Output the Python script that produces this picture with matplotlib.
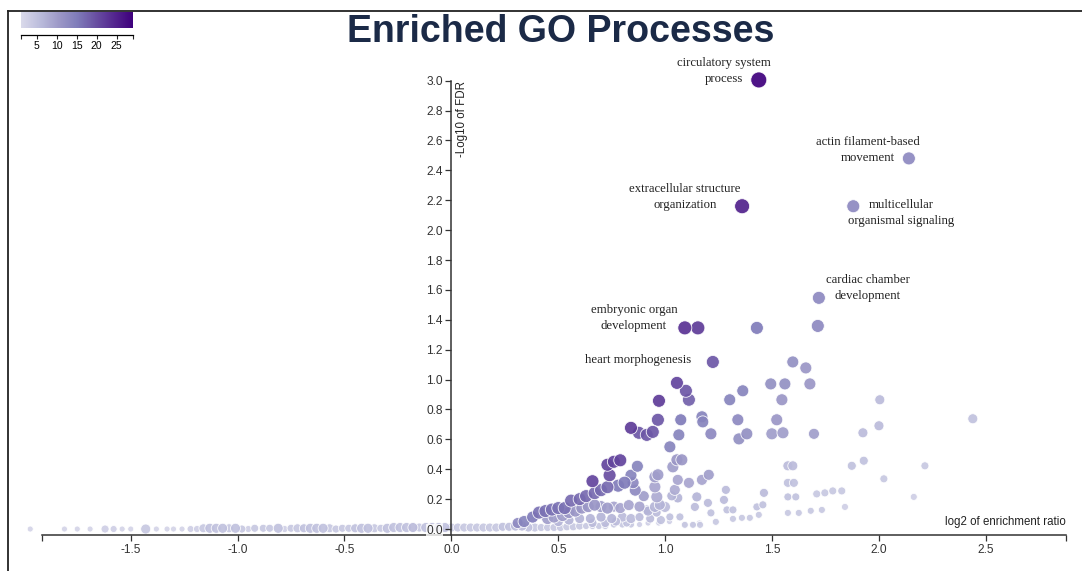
import numpy as np
import matplotlib
matplotlib.use("Agg")
import matplotlib.pyplot as plt
from matplotlib.colors import LinearSegmentedColormap, Normalize
from matplotlib.lines import Line2D

# log2 enrichment ratio, -log10 FDR, overlap (colour), category size (dot area)
x = [
    # baseline, negative side
    -1.97, -1.81, -1.75, -1.69, -1.62, -1.58, -1.54, -1.50, -1.43, -1.38,
    -1.33, -1.30, -1.26, -1.22, -1.19, -1.16, -1.13, -1.10, -1.07, -1.04,
    -1.01, -0.98, -0.95, -0.92, -0.88, -0.85, -0.81, -0.78, -0.75, -0.72,
    -0.69, -0.66, -0.63, -0.60, -0.57, -0.54, -0.51, -0.48, -0.45, -0.42,
    -0.39, -0.36, -0.33, -0.30, -0.27, -0.24, -0.21, -0.18, -0.15, -0.12,
    -0.09, -0.06, -0.03,
    # baseline, positive side
    0.00, 0.03, 0.06, 0.09, 0.12, 0.15, 0.18, 0.21, 0.24, 0.27,
    0.30, 0.33, 0.36, 0.39, 0.42, 0.45, 0.48, 0.51, 0.54, 0.57,
    0.60, 0.63, 0.66, 0.69, 0.72, 0.76, 0.80, 0.84, 0.88, 0.92,
    0.97, 1.02, 1.09, 1.13, 1.16,
    # rising envelope
    0.31, 0.34, 0.38, 0.41, 0.44, 0.47, 0.50, 0.53, 0.56, 0.60,
    0.63, 0.66, 0.67, 0.70, 0.73, 0.74, 0.73, 0.76, 0.79, 0.78,
    0.81, 0.84, 0.87, 0.86, 0.85,
    # lighter points under the envelope
    0.45, 0.48, 0.52, 0.55, 0.58, 0.61, 0.64, 0.67, 0.70, 0.73,
    0.76, 0.79, 0.83, 0.88, 0.50, 0.55, 0.60, 0.65, 0.70, 0.75,
    0.80, 0.84, 0.88, 0.93, 0.98, 0.66, 0.72, 0.77, 0.82, 0.90,
    0.92, 0.96,
    # middle cloud
    1.055, 1.097, 1.111, 0.971, 0.966, 0.840, 0.877, 0.914, 0.942, 1.073,
    1.064, 1.022, 1.172, 1.176, 1.214, 1.302, 1.363, 1.340, 1.345, 1.382,
    1.494, 1.560, 1.677, 1.597, 1.658, 1.546, 1.522, 1.499, 1.551, 1.696,
    2.004, 2.000, 2.439, 1.925, 1.873, 1.929, 2.215, 2.023, 2.163, 1.841,
    1.709, 1.747, 1.784, 1.826, 1.574, 1.597, 1.574, 1.602, 1.574, 1.611,
    1.574, 1.625, 1.681, 1.733, 1.462, 1.429, 1.457, 1.317, 1.359, 1.396,
    1.438, 1.289, 1.317, 1.284, 1.275, 1.200, 1.214, 1.237, 1.204, 1.172,
    1.148, 1.139, 1.111, 1.059, 1.045, 1.059, 1.031, 1.055, 1.078, 1.036,
    0.952, 0.966, 0.952, 0.961, 0.952, 0.975, 0.999, 0.914, 1.022, 1.069,
    1.130, 1.163, 1.092,
    # labelled terms
    1.438, 2.140, 1.360, 1.880, 1.719, 1.714, 1.092, 1.153, 1.429, 1.223,
]
y = [
    0.0, 0.0, 0.0, 0.0, 0.0, 0.0, 0.0, 0.0, 0.0, 0.0,
    0.0, 0.0, 0.0, 0.0, 0.0, 0.005, 0.005, 0.005, 0.005, 0.005,
    0.005, 0.0, 0.0, 0.005, 0.005, 0.005, 0.005, 0.0, 0.005, 0.005,
    0.005, 0.005, 0.005, 0.005, 0.005, 0.0, 0.005, 0.005, 0.005, 0.005,
    0.005, 0.005, 0.005, 0.005, 0.01, 0.01, 0.01, 0.01, 0.01, 0.01,
    0.01, 0.01, 0.01,
    0.01, 0.01, 0.01, 0.01, 0.01, 0.01, 0.01, 0.01, 0.015, 0.015,
    0.02, 0.02, 0.01, 0.01, 0.01, 0.01, 0.01, 0.01, 0.015, 0.015,
    0.02, 0.02, 0.02, 0.02, 0.02, 0.03, 0.03, 0.03, 0.03, 0.04,
    0.04, 0.05, 0.03, 0.03, 0.04,
    0.04, 0.05, 0.08, 0.11, 0.12, 0.13, 0.14, 0.14, 0.19, 0.20,
    0.22, 0.32, 0.24, 0.26, 0.28, 0.36, 0.43, 0.45, 0.46, 0.29,
    0.31, 0.36, 0.42, 0.26, 0.31,
    0.07, 0.08, 0.09, 0.11, 0.12, 0.14, 0.15, 0.16, 0.15, 0.14,
    0.15, 0.14, 0.16, 0.15, 0.05, 0.06, 0.07, 0.07, 0.08, 0.07,
    0.08, 0.07, 0.08, 0.07, 0.06, 0.04, 0.04, 0.05, 0.04, 0.22,
    0.12, 0.11,
    0.978, 0.925, 0.865, 0.858, 0.731, 0.677, 0.644, 0.630, 0.650, 0.731,
    0.630, 0.550, 0.751, 0.717, 0.637, 0.865, 0.925, 0.731, 0.603, 0.637,
    0.971, 0.971, 0.971, 1.118, 1.078, 0.865, 0.731, 0.637, 0.644, 0.637,
    0.865, 0.691, 0.738, 0.644, 0.423, 0.457, 0.423, 0.336, 0.215, 0.148,
    0.235, 0.242, 0.255, 0.255, 0.423, 0.423, 0.309, 0.309, 0.215, 0.215,
    0.108, 0.108, 0.122, 0.128, 0.242, 0.148, 0.162, 0.068, 0.075, 0.075,
    0.095, 0.128, 0.128, 0.262, 0.195, 0.175, 0.108, 0.048, 0.363, 0.329,
    0.215, 0.148, 0.309, 0.329, 0.262, 0.208, 0.222, 0.463, 0.463, 0.416,
    0.349, 0.363, 0.282, 0.215, 0.148, 0.162, 0.148, 0.128, 0.081, 0.081,
    0.028, 0.028, 0.028,
    3.005, 2.480, 2.160, 2.160, 1.547, 1.359, 1.346, 1.346, 1.346, 1.118,
]
overlap = [
    2, 2, 2, 2, 3, 3, 2, 2, 4, 2,
    2, 2, 2, 3, 3, 4, 5, 5, 5, 4,
    5, 4, 3, 4, 4, 4, 5, 3, 4, 4,
    5, 5, 5, 5, 4, 4, 4, 4, 5, 5,
    5, 4, 4, 5, 5, 5, 5, 6, 4, 5,
    5, 5, 5,
    4, 4, 4, 4, 4, 4, 4, 4, 5, 5,
    6, 6, 5, 4, 4, 4, 4, 4, 4, 4,
    4, 4, 4, 4, 4, 4, 4, 4, 3, 3,
    3, 3, 3, 3, 3,
    13, 14, 15, 16, 16, 16, 16, 16, 17, 17,
    17, 21, 17, 17, 17, 20, 21, 21, 21, 15,
    15, 14, 14, 13, 13,
    10, 10, 10, 11, 11, 11, 11, 11, 10, 10,
    9, 9, 9, 9, 7, 7, 7, 7, 7, 7,
    6, 6, 6, 6, 5, 6, 6, 6, 5, 10,
    7, 6,
    21, 19, 18, 22, 19, 22, 19, 19, 19, 15,
    14, 14, 14, 14, 13, 14, 14, 13, 12, 12,
    12, 12, 11, 12, 11, 11, 11, 10, 10, 10,
    6, 6, 5, 6, 5, 5, 4, 4, 3, 3,
    4, 4, 4, 4, 6, 6, 5, 5, 5, 5,
    4, 4, 4, 4, 6, 5, 5, 4, 4, 4,
    4, 5, 5, 6, 6, 6, 5, 4, 10, 9,
    7, 6, 9, 9, 8, 7, 7, 11, 11, 10,
    10, 10, 9, 8, 7, 7, 6, 6, 5, 5,
    4, 4, 4,
    29, 13, 25, 13, 13, 13, 23, 22, 15, 19,
]
set_size = [
    36, 36, 36, 36, 64, 49, 36, 36, 100, 36,
    36, 36, 36, 49, 49, 81, 100, 100, 100, 81,
    100, 64, 49, 64, 64, 64, 100, 49, 64, 81,
    81, 100, 100, 100, 81, 64, 64, 64, 81, 100,
    100, 81, 64, 100, 100, 100, 100, 100, 81, 100,
    100, 100, 100,
    81, 81, 81, 81, 81, 81, 81, 81, 81, 81,
    100, 100, 81, 81, 64, 64, 64, 64, 64, 64,
    64, 49, 49, 49, 49, 49, 49, 49, 36, 36,
    36, 36, 36, 36, 36,
    121, 144, 144, 169, 169, 169, 169, 169, 169, 169,
    169, 169, 169, 169, 169, 169, 169, 169, 169, 169,
    169, 144, 144, 144, 144,
    144, 144, 144, 144, 144, 144, 144, 144, 144, 144,
    121, 121, 121, 121, 100, 100, 100, 100, 100, 100,
    100, 100, 81, 81, 81, 81, 81, 81, 64, 121,
    100, 81,
    169, 169, 169, 169, 169, 169, 169, 169, 169, 144,
    144, 144, 144, 144, 144, 144, 144, 144, 144, 144,
    144, 144, 144, 144, 144, 144, 144, 144, 144, 121,
    100, 100, 100, 100, 81, 81, 64, 64, 49, 49,
    64, 64, 64, 64, 100, 100, 81, 81, 64, 64,
    49, 49, 49, 49, 81, 64, 64, 49, 49, 49,
    49, 64, 64, 81, 81, 81, 64, 49, 121, 121,
    100, 81, 121, 121, 121, 100, 100, 144, 144, 144,
    144, 144, 144, 144, 121, 121, 121, 100, 64, 64,
    49, 49, 49,
    256, 169, 225, 169, 169, 169, 196, 196, 169, 169,
]

# labelled terms: (x, y, text, offset in pixels)
labels = [
    (1.438, 3.005, "circulatory system\nprocess", (-35, 9)),
    (2.140, 2.480, "actin filament-based\nmovement", (-41, 8)),
    (1.360, 2.160, "extracellular structure\norganization", (-57, 9)),
    (1.880, 2.160, "multicellular\norganismal signaling", (48, -7)),
    (1.719, 1.547, "cardiac chamber\ndevelopment", (49, 10)),
    (1.092, 1.346, "embryonic organ\ndevelopment", (-51, 10)),
    (1.223, 1.118, "heart morphogenesis", (-75, 2)),
]

x_ticks = [-1.5, -1.0, -0.5, 0.0, 0.5, 1.0, 1.5, 2.0, 2.5]
y_ticks = [0.0, 0.2, 0.4, 0.6, 0.8, 1.0, 1.2, 1.4, 1.6, 1.8, 2.0, 2.2, 2.4, 2.6, 2.8, 3.0]
cbar_ticks = [5, 10, 15, 20, 25]

cmap = LinearSegmentedColormap.from_list(
    "purples_part", plt.cm.Purples(np.linspace(0.25, 1.0, 256)))
norm = Normalize(1, 29)

plt.rcParams['font.family'] = ['Liberation Sans', 'DejaVu Sans']
fig = plt.figure(figsize=(10.82, 5.71), dpi=100)
ax = fig.add_axes([42 / 1082, 36 / 571, 1024 / 1082, 454.3 / 571])

xa = np.array(x)
ya = np.array(y)
ov = np.array(overlap)
sz = np.array(set_size) * 0.72 ** 2
order = np.argsort(ov, kind="stable")
ax.scatter(xa[order], ya[order], s=sz[order], c=ov[order], cmap=cmap, norm=norm,
           edgecolors="white", linewidths=0.6, alpha=0.92, clip_on=False, zorder=2)
ax.set_axisbelow(False)

ax.set_xlim(-1.915, 2.875)
ax.set_ylim(-0.04, 3.0)

for side in ["top", "right"]:
    ax.spines[side].set_visible(False)
ax.spines["left"].set_position(("data", 0))
for side in ["left", "bottom"]:
    ax.spines[side].set_color("#333333")
    ax.spines[side].set_linewidth(1.1)

ax.set_xticks(x_ticks)
ax.set_xticklabels([f"{v:.1f}" for v in x_ticks])
ax.set_xticks([-1.915, 2.875], minor=True)
ax.set_yticks(y_ticks)
ax.set_yticklabels([f"{v:.1f}" for v in y_ticks])
ax.tick_params(axis="both", which="both", length=4.3, width=0.9, color="#333333",
               labelsize=8.6, labelcolor="#333333", pad=2)
for lab in ax.get_yticklabels():
    lab.set_bbox(dict(facecolor="white", edgecolor="none", pad=0.3, alpha=0.8))

for lx, ly, txt, off in labels:
    ax.annotate(txt, xy=(lx, ly), xytext=off, textcoords="offset pixels",
                ha="center", va="center", multialignment="center",
                fontsize=9.2, family=["Liberation Serif", "DejaVu Serif"],
                color="#222222", linespacing=1.45, annotation_clip=False)

ax.annotate("-Log10 of FDR", xy=(0, 3.0), xytext=(11, 0), textcoords="offset pixels",
            rotation=90, ha="center", va="top", fontsize=8.3, color="#222222",
            annotation_clip=False)
ax.annotate("log2 of enrichment ratio", xy=(1, 0), xycoords="axes fraction",
            xytext=(0, 10), textcoords="offset pixels",
            ha="right", va="baseline", fontsize=8.3, color="#222222")

fig.text(561 / 1082, (571 - 42) / 571, "Enriched GO Processes", ha="center",
         va="baseline", fontsize=27, fontweight="bold", color="#1b2a47")

# colour legend
cax = fig.add_axes([20.7 / 1082, (571 - 28) / 571, 112 / 1082, 16 / 571])
grad = np.linspace(1, 29, 256).reshape(1, -1)
cax.imshow(grad, aspect="auto", cmap=cmap, norm=norm, extent=[1, 29, 0, 1])
cax.set_xlim(1, 29)
cax.set_yticks([])
for side in ["top", "left", "right"]:
    cax.spines[side].set_visible(False)
cax.spines["bottom"].set_position(("outward", 5))
cax.spines["bottom"].set_linewidth(0.9)
cax.set_xticks(cbar_ticks)
cax.set_xticks([1, 29], minor=True)
cax.tick_params(axis="x", which="both", length=3, width=0.8, labelsize=7.5,
                pad=1.5, color="#222222")

# frame lines of the panel
fig.add_artist(Line2D([8 / 1082, 1], [1 - 11 / 571, 1 - 11 / 571],
                      color="#222222", lw=1.3))
fig.add_artist(Line2D([8 / 1082, 8 / 1082], [0, 1 - 11 / 571],
                      color="#222222", lw=1.3))

fig.savefig("out.png", dpi=100)
